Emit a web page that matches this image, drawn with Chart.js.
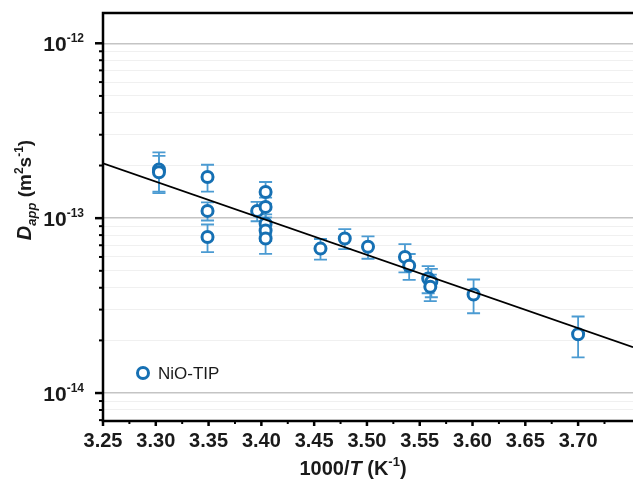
<!DOCTYPE html>
<html><head><meta charset="utf-8">
<script src="https://cdn.jsdelivr.net/npm/chart.js@4.4.1/dist/chart.umd.min.js"></script>
<style>html,body{margin:0;padding:0;background:#fff;overflow:hidden}#wrap{width:633px;height:481px;position:relative}canvas{display:block}</style>
</head><body><div id="wrap"><canvas id="c" width="633" height="481"></canvas></div>
<script>
// ---- data ----
const seriesName = 'NiO-TIP';
const xValues = [3.303, 3.303, 3.349, 3.349, 3.349, 3.396, 3.404, 3.404, 3.404, 3.404, 3.404,
                 3.456, 3.479, 3.501, 3.536, 3.540, 3.558, 3.561, 3.560, 3.601, 3.700];
const yValues = [1.90e-13, 1.83e-13, 1.72e-13, 1.10e-13, 7.8e-14, 1.10e-13, 1.41e-13, 1.16e-13, 9.3e-14, 8.5e-14, 7.65e-14,
                 6.7e-14, 7.65e-14, 6.86e-14, 6.0e-14, 5.34e-14, 4.52e-14, 4.33e-14, 4.05e-14, 3.66e-14, 2.17e-14];
const yErrors = [4.8e-14, 4.4e-14, 3.0e-14, 1.3e-14, 1.4e-14, 1.4e-14, 2.0e-14, 1.5e-14, 1.2e-14, 1.1e-14, 1.4e-14,
                 0.9e-14, 1.0e-14, 1.0e-14, 1.1e-14, 0.9e-14, 0.8e-14, 0.8e-14, 0.7e-14, 0.8e-14, 0.57e-14];
const fitX = [3.25, 3.752];
const fitY = [2.06e-13, 1.83e-14];
const xTickLabels = ['3.25','3.30','3.35','3.40','3.45','3.50','3.55','3.60','3.65','3.70'];
const yDecadeExponents = [-12, -13, -14];

// ---- styling ----
const markerColor = '#1670b3';
const errColor = '#4b9bd2';
const textColor = '#1a1a1a';
const FONT = '"Liberation Sans", Arial, Helvetica, sans-serif';

const scatterData = xValues.map((x, i) => ({x: x, y: yValues[i]}));
const fitData = fitX.map((x, i) => ({x: x, y: fitY[i]}));

function yGridTicks() {
  const t = [];
  for (let e = -15; e <= -12; e++) {
    for (let m = 1; m <= 9; m++) {
      const v = m * Math.pow(10, e);
      if (v >= 6.92e-15 && v <= 1.49e-12) t.push({value: v, major: m === 1});
    }
  }
  return t;
}
function isDecade(v) {
  const l = Math.log10(v);
  return Math.abs(l - Math.round(l)) < 1e-6;
}

function drawRich(ctx, segs, x, y, align) {
  let w = 0;
  segs.forEach(s => { ctx.font = s.font; s.w = ctx.measureText(s.t).width; w += s.w; });
  let cx = align === 'center' ? x - w / 2 : (align === 'right' ? x - w : x);
  segs.forEach(s => { ctx.font = s.font; ctx.fillText(s.t, cx, y + (s.dy || 0)); cx += s.w; });
}

const decor = {
  id: 'decor',
  afterLayout(chart) {
    // keep the plot area pinned to the reference frame
    const a = chart.chartArea;
    if (a.right !== 633) {
      a.right = 633; a.width = a.right - a.left;
      const xs = chart.scales.x;
      xs.right = 633; xs.width = xs.right - xs.left;
      xs.configure();
    }
  },
  beforeDatasetsDraw(chart) {
    const ctx = chart.ctx, xs = chart.scales.x, ys = chart.scales.y, a = chart.chartArea;
    ctx.save();
    ctx.beginPath(); ctx.rect(a.left, a.top, a.right - a.left, a.bottom - a.top); ctx.clip();
    ctx.strokeStyle = errColor; ctx.lineWidth = 1.8;
    xValues.forEach((xv, i) => {
      const px = xs.getPixelForValue(xv);
      const top = ys.getPixelForValue(yValues[i] + yErrors[i]);
      const bot = ys.getPixelForValue(yValues[i] - yErrors[i]);
      ctx.beginPath();
      ctx.moveTo(px, top); ctx.lineTo(px, bot);
      ctx.moveTo(px - 6.5, top); ctx.lineTo(px + 6.5, top);
      ctx.moveTo(px - 6.5, bot); ctx.lineTo(px + 6.5, bot);
      ctx.stroke();
    });
    ctx.restore();
  },
  afterDraw(chart) {
    const ctx = chart.ctx, xs = chart.scales.x, ys = chart.scales.y, a = chart.chartArea;
    ctx.save();
    // frame
    ctx.strokeStyle = '#000'; ctx.lineWidth = 2.5; ctx.lineCap = 'square';
    ctx.beginPath();
    ctx.moveTo(a.right + 2, a.top); ctx.lineTo(a.left, a.top); ctx.lineTo(a.left, a.bottom); ctx.lineTo(a.right + 2, a.bottom);
    ctx.stroke();
    ctx.lineCap = 'butt';
    // y ticks
    yGridTicks().forEach(t => {
      const py = ys.getPixelForValue(t.value);
      ctx.lineWidth = t.major ? 2.5 : 2;
      ctx.beginPath(); ctx.moveTo(a.left, py); ctx.lineTo(a.left - (t.major ? 8 : 4), py); ctx.stroke();
    });
    // x ticks (major + minor)
    xTickLabels.forEach((lab, i) => {
      const v = parseFloat(lab);
      const px = xs.getPixelForValue(v);
      ctx.lineWidth = 2.5;
      ctx.beginPath(); ctx.moveTo(px, a.bottom); ctx.lineTo(px, a.bottom + 5); ctx.stroke();
      const pm = xs.getPixelForValue(v + 0.025);
      if (pm < a.right) { ctx.lineWidth = 2; ctx.beginPath(); ctx.moveTo(pm, a.bottom); ctx.lineTo(pm, a.bottom + 3); ctx.stroke(); }
    });
    // x tick labels
    ctx.fillStyle = textColor; ctx.textBaseline = 'alphabetic'; ctx.textAlign = 'left';
    xTickLabels.forEach(lab => {
      const px = xs.getPixelForValue(parseFloat(lab));
      drawRich(ctx, [{t: lab, font: 'bold 20px ' + FONT}], px, 447, 'center');
    });
    // y tick labels 10^n
    yDecadeExponents.forEach(e => {
      const py = ys.getPixelForValue(Math.pow(10, e));
      drawRich(ctx, [
        {t: '10', font: 'bold 21px ' + FONT},
        {t: '-' + Math.abs(e), font: 'bold 12px ' + FONT, dy: -9}
      ], 84, py + 8, 'right');
    });
    // x title
    drawRich(ctx, [
      {t: '1000/', font: 'bold 20px ' + FONT},
      {t: 'T', font: 'italic bold 20px ' + FONT},
      {t: ' (K', font: 'bold 20px ' + FONT},
      {t: '-1', font: 'bold 13px ' + FONT, dy: -9},
      {t: ')', font: 'bold 20px ' + FONT}
    ], 353, 475, 'center');
    // y title
    ctx.save();
    ctx.translate(31, 190); ctx.rotate(-Math.PI / 2);
    drawRich(ctx, [
      {t: 'D', font: 'italic bold 20px ' + FONT},
      {t: 'app', font: 'italic bold 13px ' + FONT, dy: 5},
      {t: ' (m', font: 'bold 19px ' + FONT},
      {t: '2', font: 'bold 12px ' + FONT, dy: -8},
      {t: 's', font: 'bold 19px ' + FONT},
      {t: '-1', font: 'bold 12px ' + FONT, dy: -8},
      {t: ')', font: 'bold 19px ' + FONT}
    ], 0, 0, 'center');
    ctx.restore();
    // legend
    ctx.strokeStyle = markerColor; ctx.lineWidth = 3; ctx.fillStyle = '#fff';
    ctx.beginPath(); ctx.arc(143, 373, 5.5, 0, Math.PI * 2); ctx.fill(); ctx.stroke();
    ctx.fillStyle = textColor; ctx.textBaseline = 'middle';
    ctx.font = '17px ' + FONT; ctx.fillText(seriesName, 158, 374);
    ctx.restore();
  }
};

new Chart(document.getElementById('c'), {
  type: 'scatter',
  data: {
    datasets: [
      { type: 'line', label: 'fit', data: fitData, borderColor: '#000', borderWidth: 1.8,
        pointRadius: 0, fill: false, tension: 0 },
      { label: seriesName, data: scatterData, pointStyle: 'circle', pointRadius: 5.5,
        pointBorderWidth: 3, borderColor: markerColor, backgroundColor: '#fff',
        pointBackgroundColor: '#fff', pointBorderColor: markerColor, pointHoverRadius: 5.5 }
    ]
  },
  options: {
    responsive: false, animation: false, devicePixelRatio: 1,
    layout: { padding: { left: 103, right: 0, top: 13, bottom: 60 } },
    plugins: { legend: { display: false }, tooltip: { enabled: false } },
    scales: {
      x: { type: 'linear', min: 3.25, max: 3.752, bounds: 'data',
           ticks: { display: false }, grid: { display: false, drawTicks: false }, border: { display: false } },
      y: { type: 'logarithmic', min: 6.92e-15, max: 1.49e-12, bounds: 'data',
           afterBuildTicks: s => { s.ticks = yGridTicks(); },
           ticks: { display: false },
           grid: { drawTicks: false,
                   color: c => (c.tick && isDecade(c.tick.value)) ? '#c4c4c4' : '#f0f0f0',
                   lineWidth: c => (c.tick && isDecade(c.tick.value)) ? 1.5 : 1 },
           border: { display: false } }
    }
  },
  plugins: [decor]
});
</script></body></html>
